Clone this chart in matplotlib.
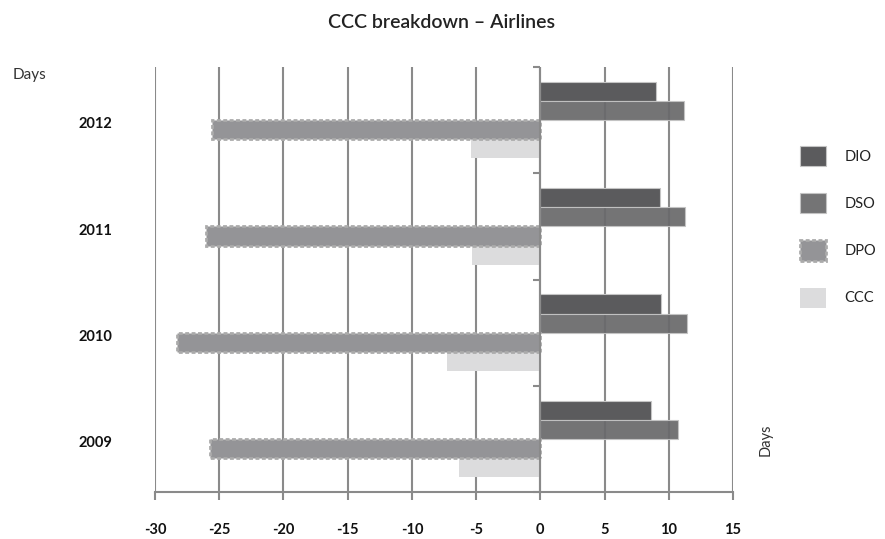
import matplotlib
matplotlib.use("Agg")
import matplotlib.pyplot as plt
import numpy as np
from matplotlib.transforms import blended_transform_factory

plt.rcParams['font.family'] = ['Lato', 'DejaVu Sans']

# Cash conversion cycle components, in days
years = ["2009", "2010", "2011", "2012"]
dio = [8.6, 9.4, 9.3, 9.0]
dso = [10.7, 11.4, 11.3, 11.2]
dpo = [-25.7, -28.3, -26.0, -25.6]
ccc = [-6.3, -7.3, -5.3, -5.4]
series_names = ["DIO", "DSO", "DPO", "CCC"]
x_ticks = [-30, -25, -20, -15, -10, -5, 0, 5, 10, 15]

fig = plt.figure(figsize=(8.85, 5.39), dpi=100)
ax = fig.add_axes([155 / 885, 1 - 492 / 539, (733 - 155) / 885, (492 - 67) / 539])

y = np.arange(len(years))
h = 0.18
grid_c = "#8a8a8a"

b_dio = ax.barh(y + 1.5 * h, dio, height=h, color="#5b5b5d", edgecolor="#c4c4c4",
                linewidth=0.8, zorder=3)
b_dso = ax.barh(y + 0.5 * h, dso, height=h, color="#69696b", edgecolor="#c4c4c4",
                linewidth=0.8, alpha=0.93, zorder=3)
b_dpo = ax.barh(y - 0.5 * h, dpo, height=h, color="#949497", edgecolor="#ababab",
                linewidth=2.0, linestyle=(0, (1.4, 0.9)), zorder=3)
b_ccc = ax.barh(y - 1.5 * h, ccc, height=h, color="#dcdcdd", linewidth=0, zorder=2)

ax.set_xlim(-30, 15)
ax.set_ylim(-0.5, len(years) - 0.5)

# vertical gridlines
ax.set_xticks(x_ticks)
ax.xaxis.grid(True, color=grid_c, linewidth=1.5, zorder=0)
ax.set_axisbelow(True)
ax.set_xticklabels([str(v) for v in x_ticks])
ax.tick_params(axis="x", length=5.8, width=1.5, color=grid_c, pad=16.5,
               labelsize=10.5, labelcolor="#111111")
for lab in ax.get_xticklabels():
    lab.set_fontweight("bold")

# zero line as category axis with ticks at category boundaries
for s in ["top", "right", "left"]:
    ax.spines[s].set_visible(False)
ax.spines["bottom"].set_color(grid_c)
ax.spines["bottom"].set_linewidth(1.5)
ax.axvline(0, color=grid_c, linewidth=1.5, zorder=4)
ax.set_yticks(np.arange(-0.5, len(years), 1.0))
ax.set_yticklabels([])
ax.tick_params(axis="y", length=0)
for yb in np.arange(-0.5, len(years), 1.0):
    ax.plot([-0.55, 0], [yb, yb], color=grid_c, linewidth=1.5, zorder=4,
            solid_capstyle="butt", clip_on=False)

# category labels on the far left
tr = blended_transform_factory(fig.transFigure, ax.transData)
for yi, lab in zip(y, years):
    fig.text(95 / 885, yi - 0.04, lab, transform=tr, ha="center", va="center",
             fontsize=10.5, fontweight="bold", color="#111111")

fig.text(30 / 885, 1 - 75 / 539, "Days", ha="center", va="center",
         fontsize=11, color="#333333")
fig.text(766 / 885, 1 - 440 / 539, "Days", ha="center", va="center",
         rotation=90, fontsize=10.5, color="#333333")
fig.text(442 / 885, 1 - 22 / 539, "CCC breakdown \u2013 Airlines", ha="center",
         va="center", fontsize=14, fontweight="semibold", color="#222222")

fig.legend([b_dio, b_dso, b_dpo, b_ccc], series_names, loc="upper left",
           bbox_to_anchor=(787 / 885, 1 - 133 / 539), frameon=False,
           fontsize=10.5, handlelength=1.75, handleheight=1.75,
           labelspacing=1.85, handletextpad=1.3, labelcolor="#222222")

fig.savefig("out.png", dpi=100)
